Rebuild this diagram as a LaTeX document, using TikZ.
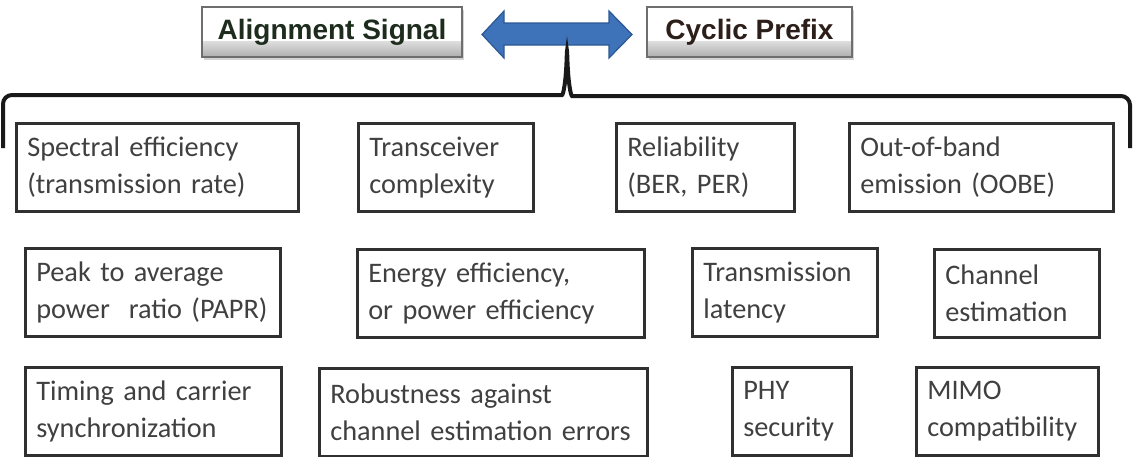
\documentclass[tikz,border=0pt]{standalone}
\usepackage{fontspec}
\setmainfont{Carlito}
\newfontfamily\headfont{Liberation Sans}
\usetikzlibrary{shadows}
\hyphenpenalty=10000
\exhyphenpenalty=10000

\definecolor{boxline}{RGB}{48,48,48}
\definecolor{boxtext}{RGB}{64,64,64}
\definecolor{headline}{RGB}{110,110,110}
\definecolor{aligntext}{RGB}{30,44,30}
\definecolor{cptext}{RGB}{44,30,24}
\definecolor{arrowfill}{RGB}{62,114,185}
\definecolor{arrowedge}{RGB}{44,88,148}

\pgfdeclareverticalshading{glossy}{100bp}{color(0bp)=(black!32); color(25bp)=(black!32); color(41bp)=(black!13); color(42bp)=(white); color(100bp)=(white)}

\tikzset{
  item/.style={draw=boxline, line width=2.6pt, text=boxtext, anchor=north west,
    align=left, inner xsep=11pt, inner ysep=0pt, text width=#1-22pt,
    minimum height=88pt, font=\fontsize{28.3}{37}\selectfont},
  head/.style={draw=headline, line width=1.2pt, shading=glossy, inner sep=0pt,
    minimum width=#1, minimum height=50pt,
    drop shadow={shadow xshift=1.5pt, shadow yshift=-2.5pt, opacity=0.35},
    font=\headfont\bfseries\fontsize{28}{30}\selectfont},
  brace/.style={line width=4pt, draw=black!90, rounded corners=9pt}
}

\begin{document}
\begin{tikzpicture}[x=1pt,y=1pt,yscale=-1]
		\useasboundingbox (0,0) rectangle (1135,456);

		% the two options
		\node (align) [head=260pt, text=aligntext] at (332,32) {Alignment Signal};
		\node (cp) [head=205pt, text=cptext] at (749.5,32) {Cyclic Prefix};
		\draw [fill=arrowfill, draw=arrowedge, line width=1.2pt]
			(482,34.5) -- (504,11) -- (504,23) -- (609,23) -- (609,11) -- (632,34.5)
			-- (609,58) -- (609,45) -- (504,45) -- (504,58) -- cycle;

		% brace
		\draw [brace] (3,148) |- (553,95) .. controls (563,95) and (566,84) .. (567,46)
			.. controls (568,84) and (571,96) .. (581,96) -| (1130,148);

		% first row
		\node (spec) [item=282pt] at (15,122) {Spectral efficiency\\(transmission rate)};
		\node (trx) [item=175pt] at (357,122) {Transceiver\\complexity};
		\node (rel) [item=178pt] at (615,122) {Reliability\\(BER, PER)};
		\node (oobe) [item=264pt] at (848,122) {Out-of-band\\emission (OOBE)};

		% second row
		\node (papr) [item=255pt] at (24,247) {Peak to average\\power~ ratio (PAPR)};
		\node (energy) [item=287pt] at (356,248) {Energy efficiency,\\or power efficiency};
		\node (lat) [item=185pt] at (691,247) {Transmission\\latency};
		\node (chest) [item=165pt] at (933,248) {Channel\\estimation};

		% third row
		\node (sync) [item=256pt] at (24,366) {Timing and carrier\\synchronization};
		\node (robust) [item=328pt] at (318,367) {Robustness against\\channel estimation errors};
		\node (phy) [item=119pt] at (731,366) {PHY\\security};
		\node (mimo) [item=182pt] at (915,366) {MIMO\\compatibility};
\end{tikzpicture}
\end{document}
